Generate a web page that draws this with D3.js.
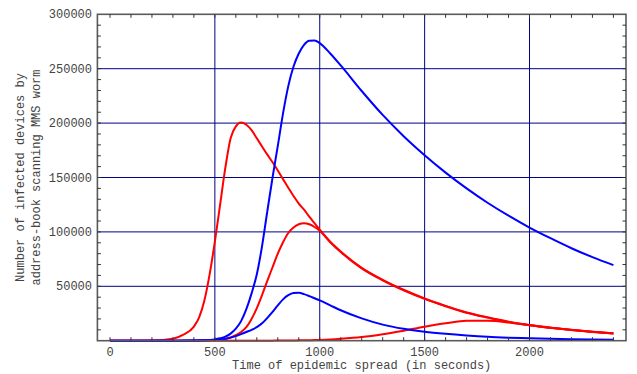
<!DOCTYPE html>
<html>
<head>
<meta charset="utf-8">
<script src="https://cdn.jsdelivr.net/npm/d3@7"></script>
<style>
  html, body { margin: 0; padding: 0; background: #ffffff; }
  svg { display: block; }
</style>
</head>
<body>
<svg id="chart" width="637" height="374"></svg>
<script>
// ---- data ----
const times = [0, 100, 200, 300, 350, 400, 425, 450, 475, 500, 525, 550, 575, 600, 625, 650, 675, 700, 725, 750, 775, 800, 825, 850, 875, 900, 925, 950, 975, 1000, 1050, 1100, 1200, 1300, 1400, 1500, 1600, 1700, 1800, 1900, 2000, 2100, 2200, 2300, 2400];

const blueHigh = [0, 0, 0, 0, 100, 200, 300, 400, 700, 1200, 2200, 3700, 6500, 11000, 18000, 29000, 43500, 61000, 87000, 119000, 150000, 179000, 209000, 234000, 252000, 264000, 272000, 275800, 276000, 273500, 264000, 253000, 229500, 207500, 188000, 170500, 154500, 140000, 126800, 114900, 104000, 94200, 85000, 76800, 69500];

const blueLow = [0, 0, 0, 0, 0, 100, 200, 300, 500, 700, 1100, 1800, 2800, 4200, 6000, 8000, 10000, 12500, 16000, 21000, 26500, 32500, 38000, 41800, 43800, 44000, 42800, 41000, 39000, 37000, 32500, 28000, 20500, 14800, 10900, 8200, 6300, 4800, 3600, 2800, 2200, 1700, 1300, 1000, 800];

const redHigh = [0, 0, 200, 1800, 5500, 13000, 21500, 37000, 61000, 91000, 125000, 159000, 186000, 197000, 200500, 198500, 193500, 186000, 178500, 171000, 164000, 156500, 148500, 140500, 133000, 126000, 120500, 114000, 108000, 102000, 91000, 82000, 67000, 56000, 46800, 38800, 32000, 26000, 21500, 17500, 14400, 12000, 10000, 8300, 6800];

const redMid = [0, 0, 0, 0, 0, 100, 150, 200, 350, 500, 900, 1600, 3000, 5000, 8000, 12500, 20000, 30000, 42000, 55000, 67500, 80000, 90500, 99000, 104000, 107000, 108000, 107000, 104500, 101000, 90500, 81500, 66500, 55500, 46300, 38400, 31700, 25700, 21200, 17200, 14200, 11800, 9800, 8100, 6600];

const redLow = [0, 0, 0, 0, 0, 0, 0, 0, 0, 0, 0, 0, 0, 0, 0, 0, 0, 0, 0, 0, 50, 100, 150, 200, 250, 300, 350, 450, 550, 700, 1100, 1700, 3300, 5900, 9200, 12800, 16000, 18400, 18300, 16800, 14300, 11900, 9900, 8200, 6700];

const xTickValues = [0, 500, 1000, 1500, 2000];
const yTickValues = [50000, 100000, 150000, 200000, 250000, 300000];
const xLabel = "Time of epidemic spread (in seconds)";
const yLabelLines = ["Number of infected devices by", "address-book scanning MMS worm"];

// ---- layout ----
const svg = d3.select("#chart");
const pL = 97.4, pR = 626, pT = 14.3, pB = 340.7;

const x = d3.scaleLinear().domain([-60, 2460]).range([pL, pR]);
const y = d3.scaleLinear().domain([0, 300000]).range([pB, pT]);

const font = "'Liberation Mono', 'Courier New', monospace";
const textColor = "#444444";
const gridColor = "#000088";
const frameColor = "#5a5a5a";

// grid
const g = svg.append("g");
g.selectAll("line.vgrid").data(xTickValues.filter(d => d > 0)).enter().append("line")
  .attr("x1", d => x(d)).attr("x2", d => x(d))
  .attr("y1", pT).attr("y2", pB)
  .attr("stroke", gridColor).attr("stroke-width", 1);
g.selectAll("line.hgrid").data(yTickValues.filter(d => d < 300000)).enter().append("line")
  .attr("x1", pL).attr("x2", pR)
  .attr("y1", d => y(d)).attr("y2", d => y(d))
  .attr("stroke", gridColor).attr("stroke-width", 1);

// curves
const line = d3.line()
  .x((d, i) => x(times[i]))
  .y(d => y(d))
  .curve(d3.curveMonotoneX);

const series = [
  { values: redLow, color: "#ff0000" },
  { values: redMid, color: "#ff0000" },
  { values: redHigh, color: "#ff0000" },
  { values: blueLow, color: "#0000ff" },
  { values: blueHigh, color: "#0000ff" }
];
svg.append("g").selectAll("path").data(series).enter().append("path")
  .attr("d", d => line(d.values))
  .attr("fill", "none")
  .attr("stroke", d => d.color)
  .attr("stroke-width", 2)
  .attr("stroke-linejoin", "round");

// frame
svg.append("rect")
  .attr("x", pL).attr("y", pT)
  .attr("width", pR - pL).attr("height", pB - pT)
  .attr("fill", "none").attr("stroke", frameColor).attr("stroke-width", 1.6);

// minor ticks
const xMinor = d3.range(0, 2401, 100);
const yMinor = d3.range(10000, 300000, 10000);
const tk = svg.append("g").attr("stroke", "#333").attr("stroke-width", 1);
tk.selectAll("line.bt").data(xMinor).enter().append("line")
  .attr("x1", d => x(d)).attr("x2", d => x(d))
  .attr("y1", pB).attr("y2", pB - 3.5);
tk.selectAll("line.tt").data(xMinor).enter().append("line")
  .attr("x1", d => x(d)).attr("x2", d => x(d))
  .attr("y1", pT).attr("y2", pT + 3.5);
tk.selectAll("line.lt").data(yMinor).enter().append("line")
  .attr("x1", pL).attr("x2", pL + 3.5)
  .attr("y1", d => y(d)).attr("y2", d => y(d));
tk.selectAll("line.rt").data(yMinor).enter().append("line")
  .attr("x1", pR).attr("x2", pR - 3.5)
  .attr("y1", d => y(d)).attr("y2", d => y(d));

// tick labels
svg.append("g").selectAll("text").data(xTickValues).enter().append("text")
  .attr("x", d => x(d)).attr("y", 356)
  .attr("text-anchor", "middle")
  .attr("font-family", font).attr("font-size", 12).attr("fill", textColor)
  .text(d => d);
svg.append("g").selectAll("text").data(yTickValues).enter().append("text")
  .attr("x", 92).attr("y", d => y(d) + 4)
  .attr("text-anchor", "end")
  .attr("font-family", font).attr("font-size", 12).attr("fill", textColor)
  .text(d => d);

// axis titles
svg.append("text")
  .attr("x", (pL + pR) / 2).attr("y", 369)
  .attr("text-anchor", "middle")
  .attr("font-family", font).attr("font-size", 12).attr("fill", textColor)
  .text(xLabel);

svg.append("g").selectAll("text").data(yLabelLines).enter().append("text")
  .attr("transform", (d, i) => `translate(${23.5 + i * 16},${(pT + pB) / 2}) rotate(-90)`)
  .attr("text-anchor", "middle")
  .attr("font-family", font).attr("font-size", 12).attr("fill", textColor)
  .text(d => d);
</script>
</body>
</html>
